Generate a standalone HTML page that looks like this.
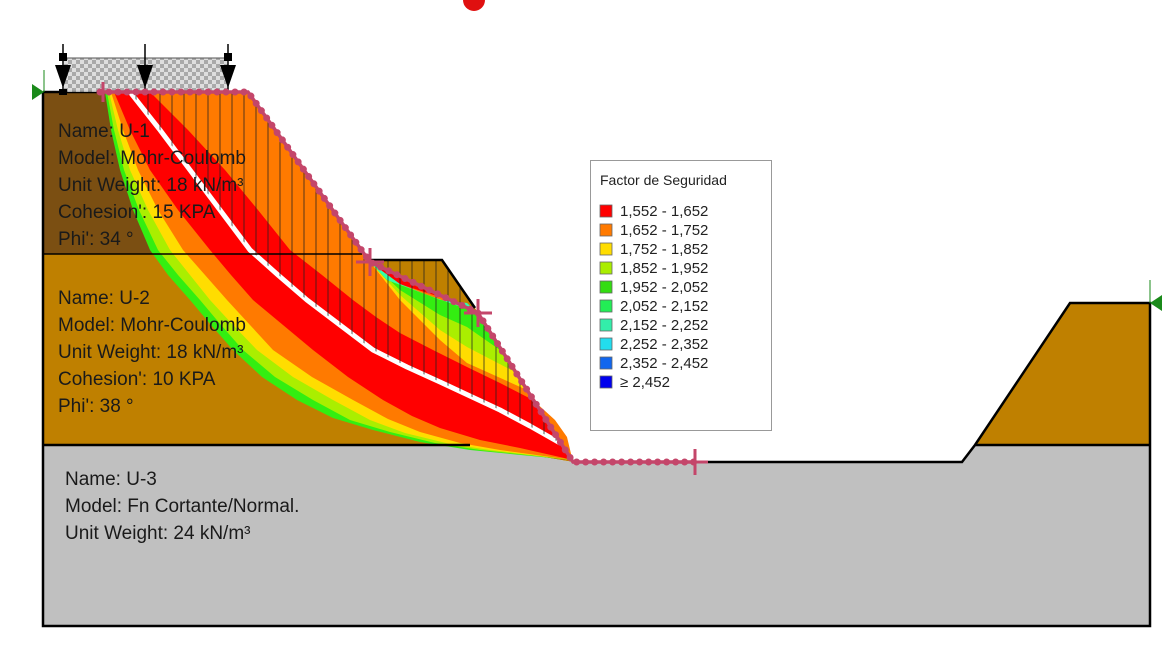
<!DOCTYPE html>
<html><head><meta charset="utf-8"><style>
html,body{margin:0;padding:0;background:#fff;}
svg{display:block;}
text{font-family:"Liberation Sans",Arial,sans-serif;}
</style></head><body>
<svg width="1173" height="648" viewBox="0 0 1173 648" xmlns="http://www.w3.org/2000/svg">
<defs>
<pattern id="chk" width="8" height="8" patternUnits="userSpaceOnUse">
<rect width="8" height="8" fill="#d8d8d8"/><rect width="4" height="4" fill="#9a9a9a"/><rect x="4" y="4" width="4" height="4" fill="#9a9a9a"/>
</pattern>
<clipPath id="sl"><polygon points="130,92 160,130 190,170 220,210 250,250 307,300 373,350 440,382 500,410 560,443 573,462 475,310 442,260 370,260 248,92"/></clipPath>
</defs>
<rect width="1173" height="648" fill="#fff"/>
<circle cx="474" cy="0" r="11" fill="#e01010"/>
<polygon points="43,92 248,92 370,260 43,254" fill="#7b4f12"/>
<polygon points="43,254 360,254 370,260 442,260 475,308 573,462 470,445 43,445" fill="#bf8000"/>
<polygon points="43,445 470,445 573,462 962,462 975,445 1150,445 1150,626 43,626" fill="#c0c0c0"/>
<polygon points="975,445 1070,303 1150,303 1150,445" fill="#bf8000"/>
<g>
<polygon fill="#33ee11" points="105,92 111,130 120,170 133,210 150,250 168,275 190,300 211,325 233,350 262,377 297,400 333,418 373,430 420,442 470,450 573,460 478,313 420,288 370,262 248,92"/>
<polygon fill="#aaee00" points="107,92 114,130 124,170 139,210 158,250 178,275 200,300 221,325 243,350 275,377 313,400 350,420 390,432 435,443 480,450 573,460 478,313 420,288 370,262 248,92"/>
<polygon fill="#ffdd00" points="109,92 118,130 130,170 148,210 170,250 190,275 210,300 233,325 257,350 293,377 333,400 370,420 405,433 450,444 490,450 573,460 478,313 420,288 370,262 248,92"/>
<polygon fill="#ff7a00" points="111,92 123,130 138,170 158,210 183,250 205,275 227,300 250,325 273,350 312,377 353,400 388,419 420,432 460,443 500,450 573,460 478,313 420,288 370,262 248,92"/>
<polygon fill="#ff0000" points="114,92 130,130 150,170 178,210 210,250 231,275 253,300 283,325 313,350 348,377 383,400 412,416 440,428 480,440 520,448 573,460 478,313 420,288 370,262 248,92"/>
<polygon fill="#ff7a00" points="150,92 188,130 225,170 258,210 290,250 322,275 353,300 376,317 400,333 433,350 467,367 500,383 533,400 555,420 567,437 573,462 478,313 440,297 387,280 370,262 248,92"/>
<polygon fill="#ffdd00" points="370,262 400,300 440,340 467,363 527,390 478,313 433,297 387,280"/>
<polygon fill="#aaee00" points="370,262 400,295 440,330 467,347 515,372 478,313 433,297 387,280"/>
<polygon fill="#33ee11" points="370,262 400,290 440,315 467,327 500,350 478,313 433,297 387,280"/>
<polygon fill="#33ffaa" points="370,262 400,284 440,300 467,303 485,320 478,313 433,297 387,280"/>
<polyline fill="none" stroke="#fff" stroke-width="5" stroke-linejoin="round" points="130,92 160,130 190,170 220,210 250,250 278,275 307,300 340,325 373,350 407,367 440,382 470,396 500,410 530,426 560,443"/>
</g>
<g clip-path="url(#sl)" stroke="#222" stroke-width="1" opacity="0.75">
<path d="M136,80V470M148,80V470M160,80V470M172,80V470M184,80V470M196,80V470M208,80V470M220,80V470M232,80V470M244,80V470M256,80V470M268,80V470M280,80V470M292,80V470M304,80V470M316,80V470M328,80V470M340,80V470M352,80V470M364,80V470M376,80V470M388,80V470M400,80V470M412,80V470M424,80V470M436,80V470M448,80V470M460,80V470M472,80V470M484,80V470M496,80V470M508,80V470M520,80V470M532,80V470M544,80V470M556,80V470"/>
</g>
<g fill="none" stroke="#000" stroke-width="2.5">
<polyline points="43,92 43,626 1150,626 1150,303 1070,303 975,445 962,462 573,462"/>
<line x1="43" y1="254" x2="362" y2="254" stroke-width="1.5"/>
<line x1="43" y1="445" x2="470" y2="445"/>
<line x1="975" y1="445" x2="1150" y2="445"/>
<polyline points="370,260 442,260 475,308"/>
<line x1="43" y1="92" x2="110" y2="92"/>
</g>
<rect x="64" y="58" width="164" height="34" fill="url(#chk)" opacity="0.85"/>
<line x1="64" y1="58" x2="228" y2="58" stroke="#555" stroke-width="1"/>
<g stroke="#000" stroke-width="1.5">
<line x1="63" y1="44" x2="63" y2="90"/><line x1="145" y1="44" x2="145" y2="90"/><line x1="228" y1="44" x2="228" y2="90"/>
</g>
<rect x="59" y="53" width="8" height="8" fill="#000"/><rect x="224" y="53" width="8" height="8" fill="#000"/>
<polygon points="55,65 71,65 63,88" fill="#000"/><polygon points="137,65 153,65 145,88" fill="#000"/><polygon points="220,65 236,65 228,88" fill="#000"/>
<rect x="59" y="89" width="8" height="6" fill="#000"/>
<g fill="none" stroke="#c4466a">
<polyline stroke-width="3.5" points="100,92 248,92 370,262 478,313 573,462 695,462"/>
<polyline stroke-width="7" stroke-linecap="round" stroke-dasharray="0 9" points="100,92 248,92 370,262 478,313 573,462 695,462"/>
<g stroke-width="3">
<line x1="103" y1="82" x2="103" y2="102"/>
<line x1="370" y1="248" x2="370" y2="276"/><line x1="356" y1="262" x2="384" y2="262"/>
<line x1="478" y1="299" x2="478" y2="327"/><line x1="464" y1="313" x2="492" y2="313"/>
<line x1="695" y1="449" x2="695" y2="475"/><line x1="682" y1="462" x2="708" y2="462"/>
</g>
</g>
<polygon points="32,84 32,100 44,92" fill="#1a8a1a"/>
<line x1="44" y1="70" x2="44" y2="92" stroke="#1a8a1a" stroke-width="1"/>
<polygon points="1162,295 1162,311 1150,303" fill="#1a8a1a"/>
<line x1="1150" y1="280" x2="1150" y2="303" stroke="#1a8a1a" stroke-width="1"/>
<g font-size="19" fill="#1a1a1a">
<text x="58" y="137">Name: U-1</text>
<text x="58" y="164">Model: Mohr-Coulomb</text>
<text x="58" y="191">Unit Weight: 18 kN/m³</text>
<text x="58" y="218">Cohesion': 15 KPA</text>
<text x="58" y="245">Phi': 34 °</text>
<text x="58" y="304">Name: U-2</text>
<text x="58" y="331">Model: Mohr-Coulomb</text>
<text x="58" y="358">Unit Weight: 18 kN/m³</text>
<text x="58" y="385">Cohesion': 10 KPA</text>
<text x="58" y="412">Phi': 38 °</text>
<text x="65" y="485">Name: U-3</text>
<text x="65" y="512">Model: Fn Cortante/Normal.</text>
<text x="65" y="539">Unit Weight: 24 kN/m³</text>
</g>
<rect x="590.5" y="160.5" width="181" height="270" fill="#fff" stroke="#999"/>
<text x="600" y="185" font-size="14" fill="#222">Factor de Seguridad</text>
<g stroke="#666" stroke-width="0.8">
<rect x="600" y="205" width="12" height="12" fill="#ff0000"/>
<rect x="600" y="224" width="12" height="12" fill="#ff7a00"/>
<rect x="600" y="243" width="12" height="12" fill="#ffdd00"/>
<rect x="600" y="262" width="12" height="12" fill="#aaee00"/>
<rect x="600" y="281" width="12" height="12" fill="#33dd11"/>
<rect x="600" y="300" width="12" height="12" fill="#22ee55"/>
<rect x="600" y="319" width="12" height="12" fill="#33eeaa"/>
<rect x="600" y="338" width="12" height="12" fill="#22ddee"/>
<rect x="600" y="357" width="12" height="12" fill="#1166ee"/>
<rect x="600" y="376" width="12" height="12" fill="#0000ee"/>
</g>
<g font-size="15" fill="#222">
<text x="620" y="216">1,552 - 1,652</text>
<text x="620" y="235">1,652 - 1,752</text>
<text x="620" y="254">1,752 - 1,852</text>
<text x="620" y="273">1,852 - 1,952</text>
<text x="620" y="292">1,952 - 2,052</text>
<text x="620" y="311">2,052 - 2,152</text>
<text x="620" y="330">2,152 - 2,252</text>
<text x="620" y="349">2,252 - 2,352</text>
<text x="620" y="368">2,352 - 2,452</text>
<text x="620" y="387">≥ 2,452</text>
</g>
</svg>
</body></html>
